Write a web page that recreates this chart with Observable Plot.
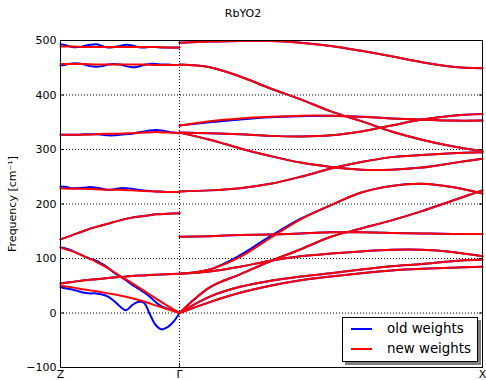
<!DOCTYPE html>
<html><head><meta charset="utf-8">
<script src="https://cdn.jsdelivr.net/npm/d3@7"></script>
<script src="https://cdn.jsdelivr.net/npm/@observablehq/plot@0.6"></script>
<style>
body{margin:0;background:#fff;font-family:"DejaVu Sans",sans-serif;}
#wrap{position:relative;width:486px;height:380px;overflow:hidden;}
#title{position:absolute;left:0;width:486px;top:7px;text-align:center;font-size:11px;line-height:13px;color:#000;}
#legend{position:absolute;left:342px;top:317px;width:134px;height:43px;border:1px solid #000;background:#fff;box-shadow:3px 3px 0 #7f7f7f;font-size:13.4px;color:#000;}
.row{position:absolute;left:0;height:16px;line-height:16px;}
.sw{position:absolute;left:8px;width:21px;height:2px;top:7px;}
.lt{position:absolute;left:44px;top:0;white-space:nowrap;}
</style></head><body>
<div id="wrap"><div id="chart"></div><div id="title"></div><div id="legend"></div></div>
<script>
// ---- data ----
const titleText = "RbYO2";
const yLabel = "Frequency [cm\u207B\u00B9]";
const yTicks = [-100, 0, 100, 200, 300, 400, 500];
const kTicks = [0, 0.282, 1];           // Z, Γ, X positions along the path
const kLabels = ["Z", "\u0393", "X"];
const seriesNames = ["old weights", "new weights"];
const seriesColors = ["#0000ff", "#ff0000"];

// sample fractions along each segment
const t11 = [0, 0.1, 0.2, 0.3, 0.4, 0.5, 0.6, 0.7, 0.8, 0.9, 1];
const t21 = [0, 0.05, 0.1, 0.15, 0.2, 0.25, 0.3, 0.35, 0.4, 0.45, 0.5, 0.55, 0.6, 0.65, 0.7, 0.75, 0.8, 0.85, 0.9, 0.95, 1];

// Z–Γ, new weights (11 samples)
const zgNew1 = [489, 489, 488, 488, 488, 488, 488, 488, 488, 487, 487];
const zgNew2 = [457, 457, 457, 456, 456, 456, 456, 456, 455, 455, 455];
const zgNew3 = [327, 327, 327, 328, 329, 329, 330, 331, 332, 331, 330];
const zgNew4 = [229, 228, 228, 227, 226, 226, 225, 224, 223, 222, 222];
const zgNew5 = [135, 143, 151, 158, 164, 170, 175, 178, 181, 182, 183];
const zgNew6 = [120, 113, 104, 94, 82, 68, 55, 41, 27, 13, 0];
const zgNew7 = [54, 57, 60, 62, 64, 66, 68, 69, 70, 71, 72];
const zgNew8 = [50, 47, 43, 40, 36, 32, 27, 21, 14, 7, 0];

// Z–Γ, old weights (21 samples where they differ)
const zgOld1 = [493, 491, 488, 488, 490, 492, 493, 490, 487, 488, 490, 492, 491, 488, 487, 488, 488, 487, 487, 487, 487];
const zgOld2 = [454, 456, 458, 458, 456, 453, 452, 453, 456, 457, 456, 453, 451, 452, 455, 457, 457, 456, 456, 455, 455];
const zgOld3 = [327, 327, 327, 327, 328, 328, 328, 327, 326, 326, 327, 328, 329, 331, 333, 335, 336, 335, 333, 331, 330];
const zgOld4 = [232, 231, 229, 229, 230, 231, 230, 228, 226, 227, 229, 229, 228, 226, 225, 224, 223, 223, 222, 222, 222];
const zgOld6 = [120, 118, 114, 109, 104, 99, 96, 90, 83, 74, 67, 60, 52, 45, 38, 30, 20, 12, 8, 5, 0];
const zgOld8 = [47, 45, 43, 40, 37, 36, 36, 34, 30, 22, 12, 5, 14, 20, 19, -2, -22, -30, -26, -16, 0];

// Γ–X, new weights (11 samples)
const gxNewA = [496, 498, 499, 499, 496, 490, 481, 471, 460, 452, 449];
const gxNewB = [456, 451, 434, 412, 392, 370, 352, 333, 318, 306, 297];
const gxNewC = [344, 352, 357, 360, 362, 362, 360, 357, 355, 353, 353];
const gxNewD = [331, 330, 328, 325, 324, 326, 333, 344, 355, 362, 365];
const gxNewE = [331, 318, 302, 288, 276, 268, 263, 263, 267, 275, 283];
const gxNewF = [223, 225, 229, 237, 250, 265, 277, 286, 290, 293, 295];
const gxNewH = [140, 141, 143, 144, 146, 148, 148, 147, 146, 145, 145];
const gxNewI = [72, 80, 103, 138, 172, 198, 221, 233, 237, 231, 219];
const gxNewK = [0, 47, 71, 95, 117, 140, 155, 170, 187, 206, 225];
const gxNewL = [72, 76, 85, 96, 104, 109, 113, 116, 116, 112, 104];
const gxNewM = [0, 30, 48, 59, 67, 73, 80, 86, 90, 95, 98];
const gxNewN = [0, 20, 37, 50, 60, 67, 73, 78, 81, 83, 85];

// Γ–X, old weights where they differ
const gxOldC = [344, 350, 355, 359, 361, 362, 360, 357, 355, 353, 353];
const gxOldI = [72, 80, 106, 141, 173, 198, 221, 233, 237, 231, 219];

// ---- build rows ----
const kG = kTicks[1];
function rows(tag, seg, ts, vals) {
  return vals.map((f, i) => ({
    id: tag,
    k: seg === "ZG" ? ts[i] * kG : kG + ts[i] * (1 - kG),
    f
  }));
}
const oldRows = [
  ...rows("o1", "ZG", t21, zgOld1), ...rows("o2", "ZG", t21, zgOld2),
  ...rows("o3", "ZG", t21, zgOld3), ...rows("o4", "ZG", t21, zgOld4),
  ...rows("o5", "ZG", t11, zgNew5), ...rows("o6", "ZG", t21, zgOld6),
  ...rows("o7", "ZG", t11, zgNew7), ...rows("o8", "ZG", t21, zgOld8),
  ...rows("oA", "GX", t11, gxNewA), ...rows("oB", "GX", t11, gxNewB),
  ...rows("oC", "GX", t11, gxOldC), ...rows("oD", "GX", t11, gxNewD),
  ...rows("oE", "GX", t11, gxNewE), ...rows("oF", "GX", t11, gxNewF),
  ...rows("oH", "GX", t11, gxNewH), ...rows("oI", "GX", t11, gxOldI),
  ...rows("oK", "GX", t11, gxNewK), ...rows("oL", "GX", t11, gxNewL),
  ...rows("oM", "GX", t11, gxNewM), ...rows("oN", "GX", t11, gxNewN)
];
const newRows = [
  ...rows("n1", "ZG", t11, zgNew1), ...rows("n2", "ZG", t11, zgNew2),
  ...rows("n3", "ZG", t11, zgNew3), ...rows("n4", "ZG", t11, zgNew4),
  ...rows("n5", "ZG", t11, zgNew5), ...rows("n6", "ZG", t11, zgNew6),
  ...rows("n7", "ZG", t11, zgNew7), ...rows("n8", "ZG", t11, zgNew8),
  ...rows("nA", "GX", t11, gxNewA), ...rows("nB", "GX", t11, gxNewB),
  ...rows("nC", "GX", t11, gxNewC), ...rows("nD", "GX", t11, gxNewD),
  ...rows("nE", "GX", t11, gxNewE), ...rows("nF", "GX", t11, gxNewF),
  ...rows("nH", "GX", t11, gxNewH), ...rows("nI", "GX", t11, gxNewI),
  ...rows("nK", "GX", t11, gxNewK), ...rows("nL", "GX", t11, gxNewL),
  ...rows("nM", "GX", t11, gxNewM), ...rows("nN", "GX", t11, gxNewN)
];

const fmt = d => d < 0 ? "\u2212" + Math.abs(d) : String(d);
const dotted = {stroke: "#000", strokeOpacity: 1, strokeWidth: 1, strokeDasharray: "1,2"};

const chart = Plot.plot({
  width: 486, height: 380,
  marginLeft: 60, marginRight: 4, marginTop: 40, marginBottom: 13,
  style: {fontFamily: "DejaVu Sans", fontSize: "11px", background: "white", color: "black", overflow: "visible"},
  x: {domain: [0, 1]},
  y: {domain: [-100, 500]},
  marks: [
    Plot.gridY(yTicks, dotted),
    Plot.gridX(kTicks, dotted),
    Plot.line(oldRows, {x: "k", y: "f", z: "id", stroke: seriesColors[0], strokeWidth: 2, curve: "catmull-rom"}),
    Plot.line(newRows, {x: "k", y: "f", z: "id", stroke: seriesColors[1], strokeWidth: 2, curve: "catmull-rom"}),
    Plot.frame({stroke: "#000", strokeWidth: 1}),
    Plot.axisY(yTicks, {tickSize: 0, tickPadding: 4, tickFormat: fmt, label: yLabel, labelAnchor: "center", labelOffset: 52, labelArrow: "none"}),
    Plot.axisY(yTicks, {tickSize: -4, tickFormat: () => "", label: null}),
    Plot.axisY(yTicks, {anchor: "right", tickSize: -4, tickFormat: () => "", label: null}),
    Plot.axisX(kTicks, {tickSize: 0, tickPadding: 3, tickFormat: d => kLabels[kTicks.indexOf(d)], label: null}),
    Plot.axisX(kTicks, {tickSize: -4, tickFormat: () => "", label: null}),
    Plot.axisX(kTicks, {anchor: "top", tickSize: -4, tickFormat: () => "", label: null})
  ]
});
document.getElementById("chart").appendChild(chart);
document.getElementById("title").textContent = titleText;

const legend = document.getElementById("legend");
seriesNames.forEach((name, i) => {
  const row = document.createElement("div");
  row.className = "row";
  row.style.top = (3 + i * 20) + "px";
  row.style.width = "134px";
  const sw = document.createElement("div");
  sw.className = "sw";
  sw.style.background = seriesColors[i];
  const lt = document.createElement("div");
  lt.className = "lt";
  lt.textContent = name;
  row.appendChild(sw); row.appendChild(lt);
  legend.appendChild(row);
});
</script>
</body></html>
